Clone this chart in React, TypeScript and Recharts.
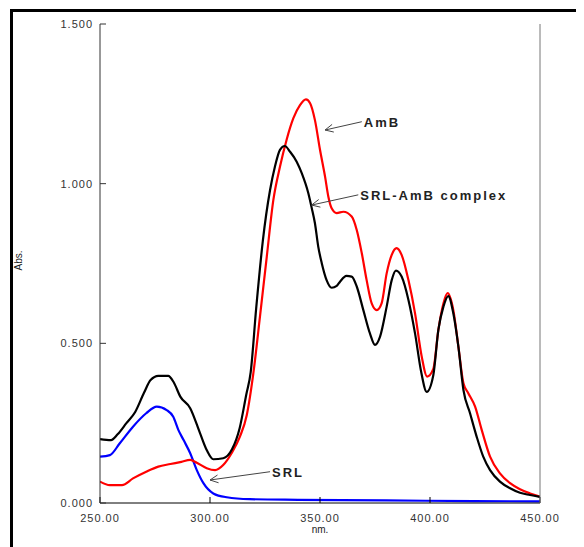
import React from "react";
import { LineChart, Line, XAxis, YAxis, ReferenceLine } from "recharts";

// wavelength (nm) ticks and absorbance ticks
const nmTicks = [250, 300, 350, 400, 450];
const absTicks = [0, 0.5, 1, 1.5];

// [nm, Abs.]
const ambPts = [
  [250, 0.067], [254.5, 0.056], [260, 0.056], [265, 0.077], [271, 0.098], [276.5, 0.114],
  [282, 0.122], [287, 0.129], [291, 0.135], [294, 0.126], [298.5, 0.109], [302.3, 0.103],
  [306, 0.119], [309.8, 0.156], [313.6, 0.208], [316.7, 0.275], [319.7, 0.406], [322.7, 0.583],
  [325.8, 0.771], [328.8, 0.949], [331.8, 1.053], [334.8, 1.137], [337.9, 1.205], [340.9, 1.246],
  [343.6, 1.264], [345.5, 1.252], [347.7, 1.199], [350, 1.106], [352.3, 1.022], [353.8, 0.959],
  [355.3, 0.923], [357.6, 0.908], [360.6, 0.912], [364.4, 0.897], [366.7, 0.855], [369, 0.782],
  [371.2, 0.698], [373.5, 0.625], [375.8, 0.604], [378, 0.625], [380.3, 0.719], [382.6, 0.777],
  [384.8, 0.798], [387.1, 0.777], [390.2, 0.698], [393.2, 0.594], [396.2, 0.46], [398.7, 0.396],
  [401.5, 0.42], [403.8, 0.542], [406.1, 0.625], [408, 0.657], [410.6, 0.604], [412.9, 0.49],
  [415.2, 0.375], [417.4, 0.344], [420.5, 0.302], [423.5, 0.229], [427.3, 0.145], [431.8, 0.093],
  [436.4, 0.062], [440.9, 0.043], [445.5, 0.03], [450, 0.02],
];

const complexPts = [
  [250, 0.2], [255, 0.197], [258, 0.215], [262, 0.25], [266, 0.285], [270, 0.345], [273, 0.385], [276.5, 0.398],
  [281, 0.398], [283.5, 0.378], [286.5, 0.333], [291, 0.297], [295.5, 0.218], [298.5, 0.166],
  [301.5, 0.137], [306, 0.14], [310, 0.168], [313.5, 0.235], [316.5, 0.34], [318.5, 0.41],
  [321, 0.61], [324, 0.82], [327.3, 0.98], [329.5, 1.053], [331.8, 1.106], [334, 1.118],
  [336.4, 1.1], [339.4, 1.069], [341.7, 1.033], [344.7, 0.97], [346.2, 0.925], [347.7, 0.876],
  [349.2, 0.803], [350.8, 0.751], [353, 0.698], [355.3, 0.674], [357.6, 0.68], [359.1, 0.693],
  [362, 0.711], [364.4, 0.709], [366.7, 0.678], [369.7, 0.604], [372.7, 0.531], [375, 0.495],
  [377.3, 0.521], [380.3, 0.615], [382.6, 0.698], [384.5, 0.728], [387.1, 0.709], [390.2, 0.636],
  [393.2, 0.531], [396, 0.41], [398.5, 0.348], [401.5, 0.4], [403.8, 0.542], [406.1, 0.615],
  [408.3, 0.648], [410.6, 0.594], [412.9, 0.49], [415.2, 0.354], [418.2, 0.281], [421.2, 0.208],
  [424.2, 0.145], [427.3, 0.103], [431.8, 0.067], [436.4, 0.046], [440.9, 0.032], [445.5, 0.025],
  [450, 0.019],
];

const srlPts = [
  [250, 0.145], [254.5, 0.15], [259, 0.187], [265, 0.239], [271, 0.281], [275.8, 0.302],
  [280.3, 0.291], [283.3, 0.27], [285.6, 0.229], [288, 0.197], [291, 0.156], [294, 0.103],
  [297, 0.062], [301.5, 0.03], [307.6, 0.018], [318, 0.012], [340, 0.01], [380, 0.008],
  [420, 0.006], [450, 0.005],
];

// arrow annotations: text, tail [nm, abs], tip [nm, abs]
const notes = [
  { text: "AmB", from: [369, 1.194], to: [352.3, 1.168] },
  { text: "SRL-AmB complex", from: [367.4, 0.965], to: [346.2, 0.933] },
  { text: "SRL", from: [327.3, 0.098], to: [300, 0.072] },
];

const toRows = (pts: number[][]) => pts.map(([nm, a]) => ({ nm, a }));

const font = "'Liberation Sans', Arial, sans-serif";

const arrowShape = (label: string) => (p: any) => {
  const { x1, y1, x2, y2 } = p;
  const ang = Math.atan2(y1 - y2, x1 - x2);
  const len = 9;
  const spread = 0.45;
  const ax = x2 + len * Math.cos(ang + spread);
  const ay = y2 + len * Math.sin(ang + spread);
  const bx = x2 + len * Math.cos(ang - spread);
  const by = y2 + len * Math.sin(ang - spread);
  return (
    <g>
      <line x1={x1} y1={y1} x2={x2} y2={y2} stroke="#444" strokeWidth={1} />
      <polyline points={`${ax},${ay} ${x2},${y2} ${bx},${by}`} fill="none" stroke="#444" strokeWidth={1} />
      <text x={x1 + 2} y={y1 + 5} fontFamily={font} fontSize={13} fontWeight="bold" letterSpacing={2} fill="#222">
        {label}
      </text>
    </g>
  );
};

const AbsLabel = ({ viewBox }: any) => {
  const x = viewBox.x + 10;
  const y = viewBox.y + viewBox.height / 2 - 3;
  return (
    <text x={x} y={y} transform={`rotate(-90 ${x} ${y})`} textAnchor="middle" dominantBaseline="central"
      fontFamily={font} fontSize={10} fill="#222">
      Abs.
    </text>
  );
};

const tickStyle = { fill: "#333", fontSize: 11, fontFamily: font, letterSpacing: 1 };

export default function App() {
  return (
    <div style={{ position: "relative", width: 576, height: 539, overflow: "hidden", background: "#fff" }}>
      <div style={{ position: "absolute", left: 2, top: 1, width: 800, height: 800, border: "3px solid #000" }} />
      <div style={{ position: "absolute", left: 0, top: 0 }}>
        <LineChart width={576} height={539} margin={{ top: 16, right: 0, bottom: 14, left: 0 }}>
          <XAxis type="number" dataKey="nm" domain={[250, 450]} ticks={nmTicks} allowDataOverflow
            tickFormatter={(v: number) => v.toFixed(2)} tick={tickStyle} tickSize={-6} tickMargin={17}
            height={30} axisLine={{ stroke: "#000" }} tickLine={{ stroke: "#000" }}
            label={{ value: "nm.", position: "insideBottom", offset: 0, fontSize: 10, fontFamily: font, fill: "#222" }} />
          <XAxis xAxisId="top" orientation="top" type="number" dataKey="nm" domain={[250, 450]} ticks={nmTicks}
            allowDataOverflow tick={false} tickSize={-6} height={0} axisLine={{ stroke: "#000" }} tickLine={{ stroke: "#000" }} />
          <YAxis type="number" domain={[0, 1.5]} ticks={absTicks} allowDataOverflow
            tickFormatter={(v: number) => v.toFixed(3)} tick={tickStyle} tickSize={-6} tickMargin={13}
            width={92} axisLine={{ stroke: "#333" }} tickLine={{ stroke: "#333" }}
            label={{ content: AbsLabel }} />
          <YAxis yAxisId="right" orientation="right" type="number" domain={[0, 1.5]} ticks={absTicks}
            allowDataOverflow tick={false} tickSize={-6} width={44} axisLine={{ stroke: "#777" }} tickLine={{ stroke: "#777" }} />
          <Line data={toRows(srlPts)} dataKey="a" type="monotone" stroke="#0000ff" strokeWidth={2.2} dot={false} isAnimationActive={false} />
          <Line data={toRows(ambPts)} dataKey="a" type="monotone" stroke="#ff0000" strokeWidth={2.2} dot={false} isAnimationActive={false} />
          <Line data={toRows(complexPts)} dataKey="a" type="monotone" stroke="#000000" strokeWidth={2.2} dot={false} isAnimationActive={false} />
          {notes.map((n) => (
            <ReferenceLine key={n.text} segment={[{ x: n.from[0], y: n.from[1] }, { x: n.to[0], y: n.to[1] }]}
              shape={arrowShape(n.text)} />
          ))}
        </LineChart>
      </div>
    </div>
  );
}
